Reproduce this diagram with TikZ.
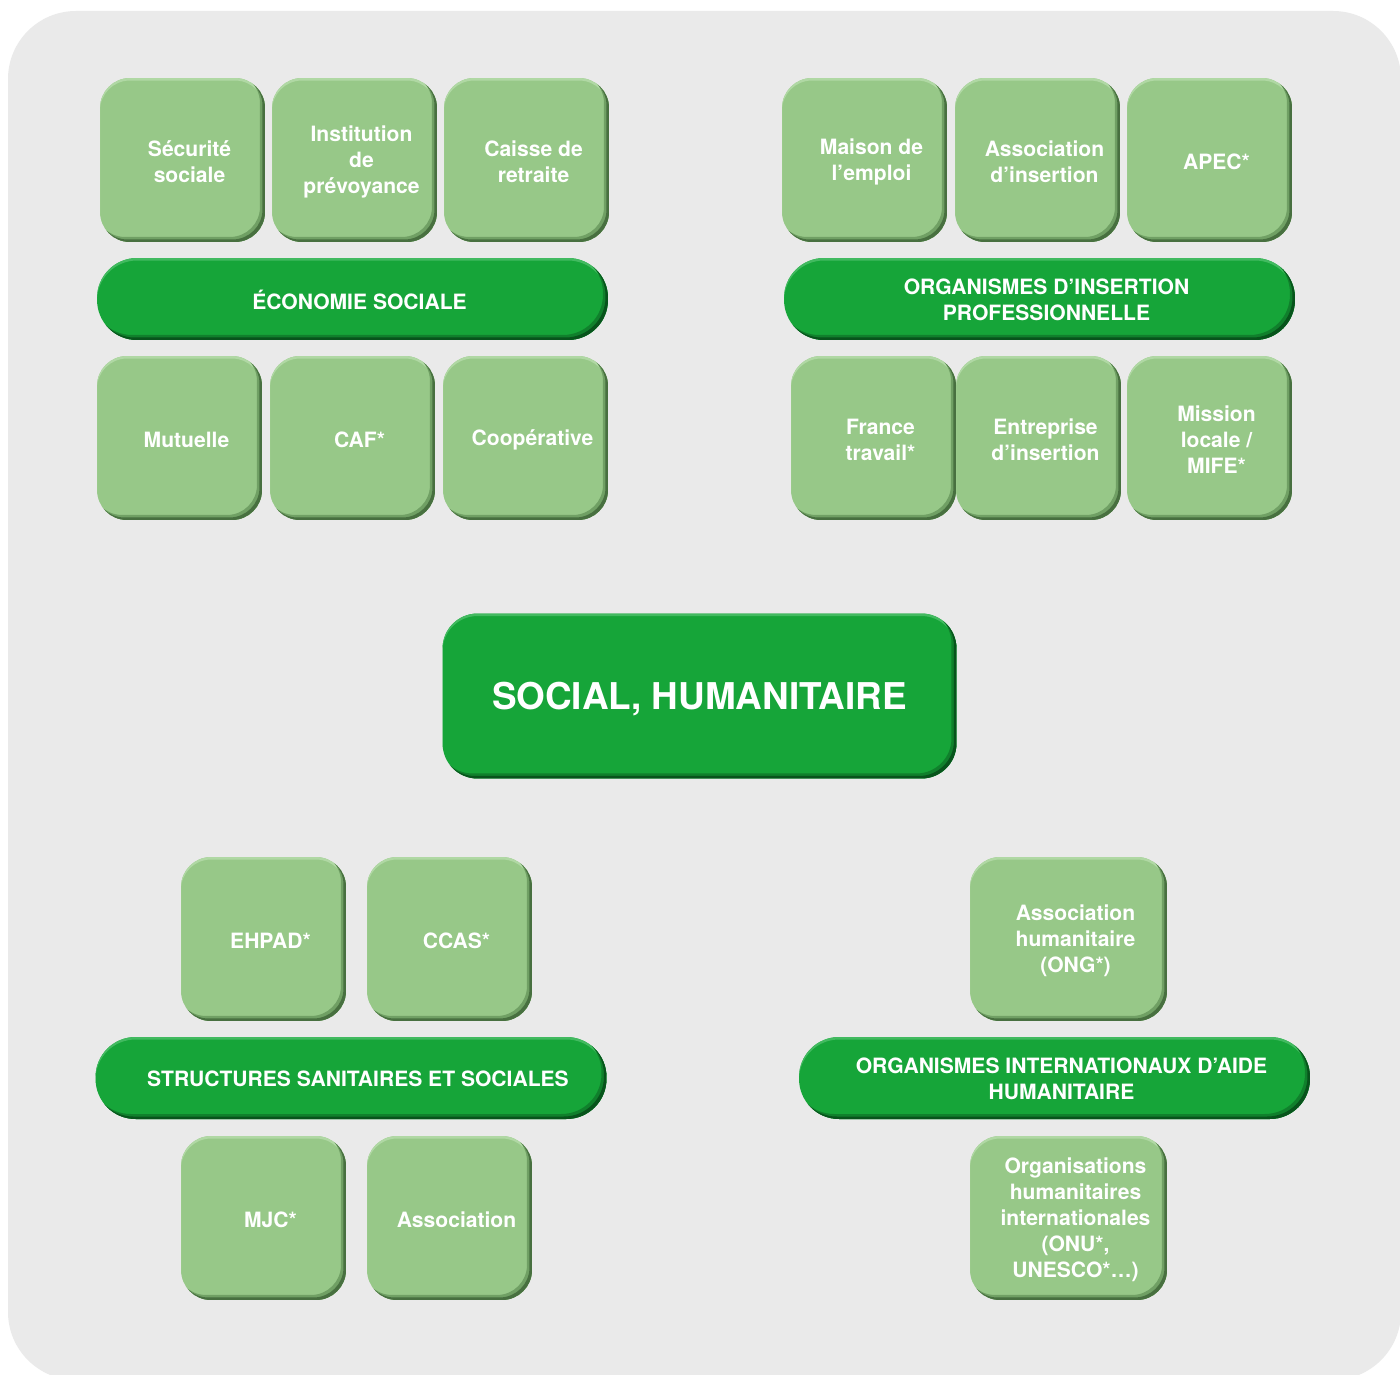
\documentclass[tikz,border=0pt]{standalone}
\usepackage{fontspec}
\setmainfont{TeX Gyre Heros}
\definecolor{pageGrey}{RGB}{234,234,234}
\definecolor{boxTop}{RGB}{176,216,164}
\definecolor{boxLight}{RGB}{151,200,136}
\definecolor{boxMid}{RGB}{112,160,100}
\definecolor{boxRim}{RGB}{72,112,64}
\definecolor{bandTop}{RGB}{66,186,96}
\definecolor{bandMain}{RGB}{22,165,57}
\definecolor{bandMid}{RGB}{16,128,44}
\definecolor{bandRim}{RGB}{8,84,28}

\begin{document}
\begin{tikzpicture}
[x=0.02cm, y=-0.02cm,
 bevelDecorate/.style n args={5}{fill=#1,
   path picture={
     \foreach \bevelcolor/\dx/\dy in {#2/0/-0.05, #3/-0.1/0.1, #4/-0.05/0.05}
     {
       \fill[\bevelcolor, even odd rule, rounded corners=#5]
         ([shift={(-1cm,1cm)}]path picture bounding box.north west)
         rectangle ([shift={(1cm,-1cm)}]path picture bounding box.south east)
         ([shift={(\dx cm,\dy cm)}]path picture bounding box.north west)
         rectangle ([shift={(\dx cm,\dy cm)}]path picture bounding box.south east);
     }
   }},
 boxDecorate/.style={shape=rectangle, rounded corners=0.6cm, inner sep=0pt,
   minimum height=3.28cm,
   bevelDecorate={boxLight}{boxTop}{boxMid}{boxRim}{0.6cm}},
 bandDecorate/.style={shape=rectangle, rounded corners=0.8cm, inner sep=0pt,
   minimum width=10.22cm, minimum height=1.64cm,
   bevelDecorate={bandMain}{bandTop}{bandMid}{bandRim}{0.8cm}},
 titleDecorate/.style={shape=rectangle, rounded corners=0.7cm, inner sep=0pt,
   minimum width=10.28cm, minimum height=3.3cm,
   bevelDecorate={bandMain}{bandTop}{bandMid}{bandRim}{0.7cm}},
 textDecorate/.style={text=white, align=center, inner sep=0pt,
   font=\fontsize{12}{14.8}\selectfont\bfseries},
 titleTextDecorate/.style={textDecorate, font=\fontsize{21}{25}\selectfont\bfseries}]
%% page
\useasboundingbox (0,0) rectangle (1400,1375);
\fill[white] (0,0) rectangle (1400,1375);
\fill[pageGrey, rounded corners=1.36cm] (8,11) rectangle (1401,1380);
%% small boxes
\foreach \nodename/\x/\y/\w/\nodetext in
  {secu/182.5/160/3.3/{Sécurité\\sociale},
   inst/354.5/160/3.3/{Institution\\de\\prévoyance},
   caisse/526.5/160/3.3/{Caisse de\\retraite},
   mutuelle/179.5/438/3.3/{Mutuelle},
   caf/352.5/438/3.3/{CAF*},
   coop/525.5/438/3.3/{Coopérative},
   maison/864.5/160/3.3/{Maison de\\l’emploi},
   assoins/1037.5/160/3.3/{Association\\d’insertion},
   apec/1209.5/160/3.3/{APEC*},
   france/873.5/438/3.3/{France\\travail*},
   entreprise/1038.5/438/3.3/{Entreprise\\d’insertion},
   mission/1209.5/438/3.3/{Mission\\locale /\\MIFE*},
   ehpad/263.5/939/3.3/{EHPAD*},
   ccas/449.5/939/3.3/{CCAS*},
   mjc/263.5/1218/3.3/{MJC*},
   asso/449.5/1218/3.3/{Association},
   ong/1068.5/939/3.94/{Association\\humanitaire\\(ONG*)},
   onu/1068.5/1218/3.94/{Organisations\\humanitaires\\internationales\\(ONU*,\\UNESCO*…)}}
{
  \node (\nodename) at (\x,\y) [boxDecorate, minimum width=\w cm] {};
  \node (\nodename-text) at ([xshift=0.14cm, yshift=-0.04cm]\nodename) [textDecorate] {\nodetext};
}
%% bands
\foreach \nodename/\x/\y/\nodetext in
  {econ/352.5/299/{ÉCONOMIE SOCIALE},
   insertion/1039.5/299/{ORGANISMES D’INSERTION\\PROFESSIONNELLE},
   sanitaire/351/1078/{STRUCTURES SANITAIRES ET SOCIALES},
   aide/1054.5/1078/{ORGANISMES INTERNATIONAUX D’AIDE\\HUMANITAIRE}}
{
  \node (\nodename) at (\x,\y) [bandDecorate] {};
  \node (\nodename-text) at ([xshift=0.14cm, yshift=-0.02cm]\nodename) [textDecorate] {\nodetext};
}
%% title
\node (social) at (699.5,696) [titleDecorate] {};
\node (social-text) at ([yshift=-0.06cm]social) [titleTextDecorate] {SOCIAL, HUMANITAIRE};
\end{tikzpicture}
\end{document}
